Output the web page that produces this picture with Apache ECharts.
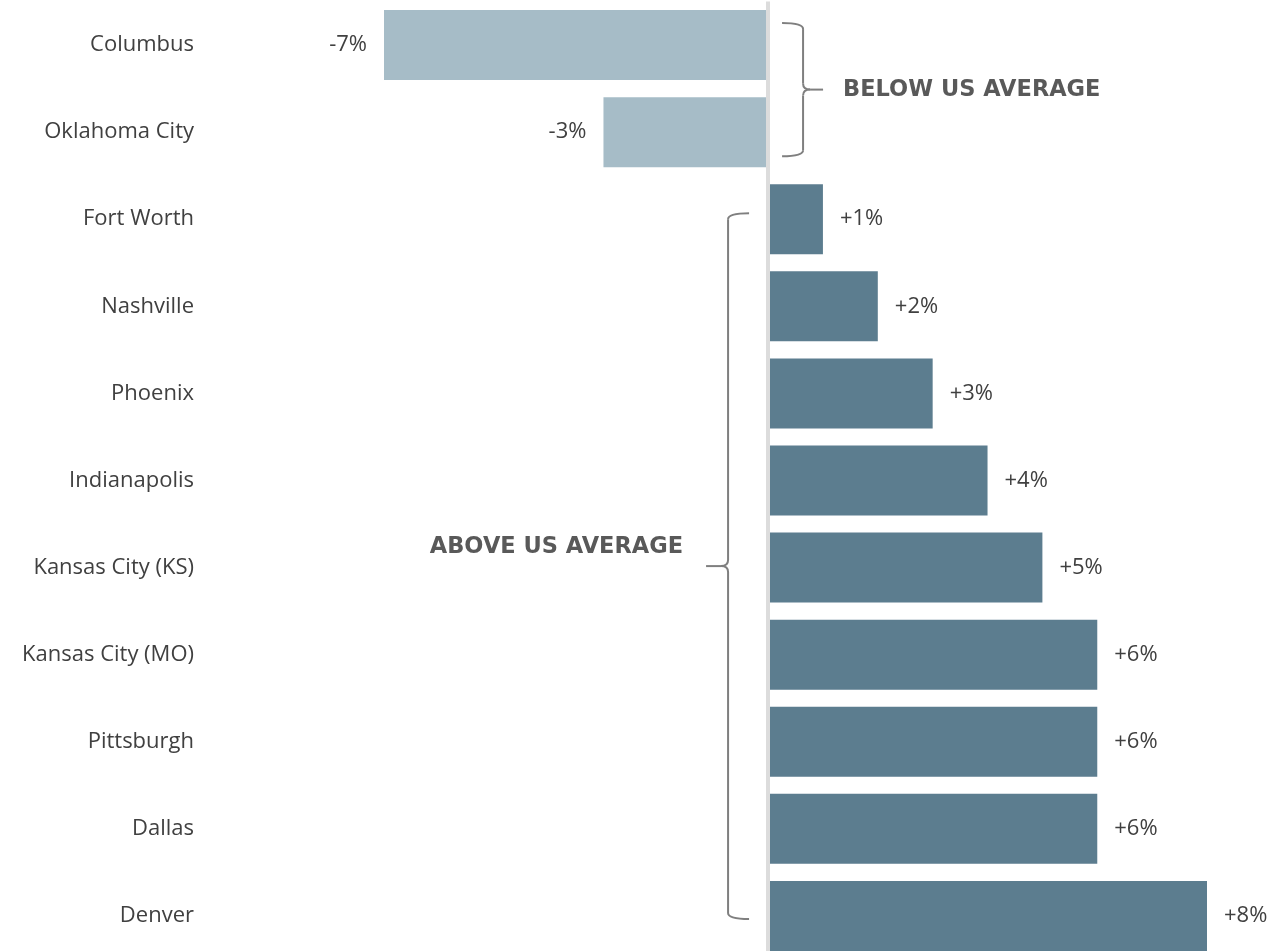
<!DOCTYPE html>
<html><head><meta charset="utf-8">
<script src="https://cdn.jsdelivr.net/npm/echarts@6/dist/echarts.min.js"></script>
<style>html,body{margin:0;padding:0;background:#fff;overflow:hidden}#c{width:1278px;height:962px}</style>
</head><body><div id="c"></div>
<script>
const categories = ["Columbus","Oklahoma City","Fort Worth","Nashville","Phoenix","Indianapolis","Kansas City (KS)","Kansas City (MO)","Pittsburgh","Dallas","Denver"];
const values = [-7,-3,1,2,3,4,5,6,6,6,8];
const belowLabel = "BELOW US AVERAGE";
const aboveLabel = "ABOVE US AVERAGE";
const negColor = "#a6bcc7", posColor = "#5c7d8f";
const FONT = "'Open Sans', 'Noto Sans', sans-serif";
const BOLDFONT = "'DejaVu Sans', sans-serif";

const chart = echarts.init(document.getElementById('c'), null, {renderer:'canvas'});
const data = values.map(v => ({
  value: v,
  itemStyle: {color: v < 0 ? negColor : posColor},
  label: {position: v < 0 ? 'left' : 'right'}
}));
chart.setOption({
  animation:false,
  grid:{left:384, right:71, top:1.5, height:958, containLabel:false},
  xAxis:{type:'value', min:-7, max:8, show:false},
  yAxis:{type:'category', data:categories, inverse:true,
    axisLine:{show:false}, axisTick:{show:false},
    axisLabel:{margin:190, fontSize:22, color:'#404040', fontFamily:FONT}},
  series:[{
    type:'bar', data:data, barWidth:70,
    label:{show:true, distance:17, fontSize:22, color:'#404040', fontFamily:FONT,
      formatter:p => (p.value > 0 ? '+' : '') + p.value + '%'},
    markLine:{silent:true, symbol:'none', label:{show:false},
      lineStyle:{color:'#dcdcdc', width:4, type:'solid'},
      data:[{xAxis:0}], z:5}
  }]
});

const ST = {stroke:'#7f7f7f', lineWidth:2, fill:null};
function brace(x0, xv, xt, y1, y2, ym){
  const s = Math.sign(xt - xv), r = 6, k = 7;
  return [
    {type:'bezierCurve', shape:{x1:x0, y1:y1, cpx1:xv, cpy1:y1, x2:xv, y2:y1+r}, style:ST},
    {type:'line', shape:{x1:xv, y1:y1+r, x2:xv, y2:ym-r}, style:ST},
    {type:'bezierCurve', shape:{x1:xv, y1:ym-r, cpx1:xv, cpy1:ym, x2:xv+s*k, y2:ym}, style:ST},
    {type:'line', shape:{x1:xv+s*k, y1:ym, x2:xt, y2:ym}, style:ST},
    {type:'bezierCurve', shape:{x1:xv+s*k, y1:ym, cpx1:xv, cpy1:ym, x2:xv, y2:ym+r}, style:ST},
    {type:'line', shape:{x1:xv, y1:ym+r, x2:xv, y2:y2-r}, style:ST},
    {type:'bezierCurve', shape:{x1:xv, y1:y2-r, cpx1:xv, cpy1:y2, x2:x0, y2:y2}, style:ST}
  ];
}
const zeroX = chart.convertToPixel({gridIndex:0}, [0, 0])[0];
const cy = i => chart.convertToPixel({gridIndex:0}, [0, i])[1];
const b1 = cy(0) - 22, b2 = cy(1) + 24, bm = (b1 + b2) / 2;
const a1 = cy(2) - 6, a2 = cy(10) + 3, am = (a1 + a2) / 2;
chart.setOption({graphic:[].concat(
  brace(zeroX+14, zeroX+35, zeroX+55, b1, b2, bm),
  [{type:'text', x:zeroX+75, y:bm+1, style:{text:belowLabel, font:`bold 22.5px ${BOLDFONT}`, fill:'#595959', textAlign:'left', textVerticalAlign:'middle'}}],
  brace(zeroX-19, zeroX-40, zeroX-62, a1, a2, am),
  [{type:'text', x:zeroX-85, y:am-19, style:{text:aboveLabel, font:`bold 22.5px ${BOLDFONT}`, fill:'#595959', textAlign:'right', textVerticalAlign:'middle'}}]
)});
</script></body></html>
